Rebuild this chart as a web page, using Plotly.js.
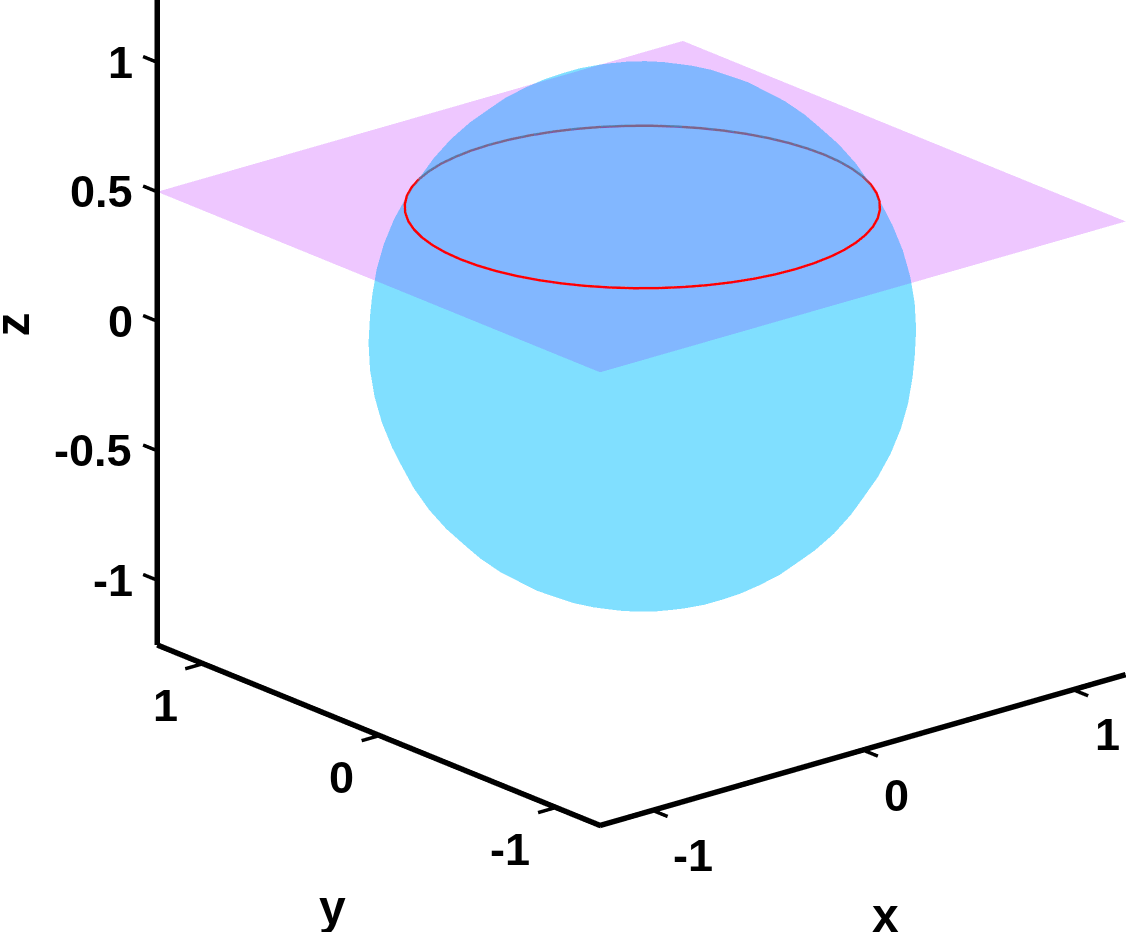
<!DOCTYPE html>
<html>
<head>
<meta charset="utf-8">
<script src="https://cdn.plot.ly/plotly-3.0.1.min.js"></script>
<style>html,body{margin:0;padding:0;background:#fff;overflow:hidden}#chart{width:1126px;height:932px}</style>
</head>
<body>
<div id="chart"></div>
<script>
// Unit-circle table, every 6 degrees from 0 to 360
var unitCos = [1,0.9945,0.9781,0.9511,0.9135,0.866,0.809,0.7431,0.6691,0.5878,0.5,0.4067,0.309,0.2079,0.1045,0,-0.1045,-0.2079,-0.309,-0.4067,-0.5,-0.5878,-0.6691,-0.7431,-0.809,-0.866,-0.9135,-0.9511,-0.9781,-0.9945,-1,-0.9945,-0.9781,-0.9511,-0.9135,-0.866,-0.809,-0.7431,-0.6691,-0.5878,-0.5,-0.4067,-0.309,-0.2079,-0.1045,0,0.1045,0.2079,0.309,0.4067,0.5,0.5878,0.6691,0.7431,0.809,0.866,0.9135,0.9511,0.9781,0.9945,1];
var unitSin = [0,0.1045,0.2079,0.309,0.4067,0.5,0.5878,0.6691,0.7431,0.809,0.866,0.9135,0.9511,0.9781,0.9945,1,0.9945,0.9781,0.9511,0.9135,0.866,0.809,0.7431,0.6691,0.5878,0.5,0.4067,0.309,0.2079,0.1045,0,-0.1045,-0.2079,-0.309,-0.4067,-0.5,-0.5878,-0.6691,-0.7431,-0.809,-0.866,-0.9135,-0.9511,-0.9781,-0.9945,-1,-0.9945,-0.9781,-0.9511,-0.9135,-0.866,-0.809,-0.7431,-0.6691,-0.5878,-0.5,-0.4067,-0.309,-0.2079,-0.1045,0];
var sphereRadius = 1;
var planeX = [-1.25, 1.25];
var planeY = [-1.25, 1.26];
var planeZ = [[0.5, 0.5], [0.5, 0.5]];
var circleRadius = 0.866;
var circleZ = 0.5;
var xTicks = [-1, 0, 1];
var yTicks = [-1, 0, 1];
var zTicks = [-1, -0.5, 0, 0.5, 1];
var axisLimit = 1.25;
var yUpper = 1.26;

var L = axisLimit;
var xRange = [-1.36, L], yRange = [-1.36, 1.36], zRange = [-L, L];
var sx = [], sy = [], sz = [];
for (var a = 0; a <= 30; a++) {
  var lat = 45 + a; if (lat > 60) lat -= 60;
  var rowX = [], rowY = [], rowZ = [];
  for (var b = 0; b <= 60; b += 2) {
    rowX.push(sphereRadius * unitCos[lat] * unitCos[b]);
    rowY.push(sphereRadius * unitCos[lat] * unitSin[b]);
    rowZ.push(sphereRadius * unitSin[lat]);
  }
  sx.push(rowX); sy.push(rowY); sz.push(rowZ);
}
function arc(idx) {
  return {
    x: idx.map(function (i) { return circleRadius * unitCos[i]; }),
    y: idx.map(function (i) { return circleRadius * unitSin[i]; }),
    z: idx.map(function () { return circleZ; })
  };
}
var backIdx = [57,58,59,60,1,2,3,4,5,6,7,8,9,10,11,12,13,14,15,16,17,18,19,20];
var frontIdx = []; for (var k = 20; k <= 57; k++) frontIdx.push(k);
var backArc = arc(backIdx), frontArc = arc(frontIdx);

var flat = function (c) { return [[0, c], [1, c]]; };
var noLight = {ambient: 1, diffuse: 0, specular: 0, roughness: 1, fresnel: 0};
function lineTrace(x, y, z, w) {
  return {type: 'scatter3d', mode: 'lines', x: x, y: y, z: z, line: {color: '#000', width: w}, hoverinfo: 'skip', showlegend: false};
}
var tx = [], ty = [], tz = [];
function addTick(p, q) { tx.push(p[0], q[0], null); ty.push(p[1], q[1], null); tz.push(p[2], q[2], null); }
xTicks.forEach(function (v) { addTick([v, -L, -L], [v, -L - 0.085, -L]); });
yTicks.forEach(function (v) { addTick([-L, v, -L], [-L - 0.085, v, -L]); });
zTicks.forEach(function (v) { addTick([-L, yUpper, v], [-L, yUpper + 0.08, v]); });

function sphereLayer(alpha) {
  return {type: 'surface', x: sx, y: sy, z: sz, surfacecolor: sz.map(function(r){return r.map(function(){return 0;});}), cmin: 0, cmax: 1,
   colorscale: flat('#00bfff'), showscale: false, opacity: alpha, lighting: noLight, hoverinfo: 'skip'};
}
var traces = [
  sphereLayer(0.2),
  {type: 'surface', x: planeX, y: planeY, z: planeZ, surfacecolor: [[0,0],[0,0]], cmin: 0, cmax: 1,
   colorscale: flat('#b100ff'), showscale: false, opacity: 0.22, lighting: noLight, hoverinfo: 'skip'},
  sphereLayer(0.115),
  {type: 'scatter3d', mode: 'lines', x: backArc.x, y: backArc.y, z: backArc.z, line: {color: '#b03e5c', width: 5}, hoverinfo: 'skip'},
  {type: 'scatter3d', mode: 'lines', x: frontArc.x, y: frontArc.y, z: frontArc.z, line: {color: '#ff0000', width: 5}, hoverinfo: 'skip'},
  lineTrace([-L, L], [-L, -L], [-L, -L], 11),
  lineTrace([-L, -L, -L], [yUpper, -L, -L], [-L, -L, -L], 11),
  lineTrace([-L, -L], [yUpper, yUpper], [-L, L], 11),
  lineTrace(tx, ty, tz, 7)
];
function axis(vals, range) {
  return {range: range, autorange: false, tickmode: 'array', tickvals: vals, ticktext: vals.map(String),
    showgrid: false, zeroline: false, showbackground: false, showspikes: false, showline: false,
    ticks: '', showticklabels: false, title: {text: ''}};
}
var tickFont = {family: 'Liberation Sans', size: 45, color: '#000', weight: 700};
var titleFont = {family: 'Liberation Sans', size: 48, color: '#000', weight: 700};
function note(x, y, z, text, dx, dy, font, angle) {
  return {x: x, y: y, z: z, text: text, showarrow: false, xanchor: 'center', yanchor: 'middle',
    xshift: dx, yshift: -dy, font: font, textangle: angle || 0};
}
var notes = [];
xTicks.forEach(function (v) { notes.push(note(v, -L, -L, String(v), v < 0 ? 40 : 34, 45, tickFont)); });
yTicks.forEach(function (v) { notes.push(note(-L, v, -L, String(v), v < 0 ? -46 : -38, 42, tickFont)); });
zTicks.forEach(function (v) {
  var s = String(v);
  var shift = {'-1': -44, '-0.5': -64, '0': -37, '0.5': -56, '1': -37}[s];
  notes.push(note(-L, yUpper, v, s, shift, 0, tickFont));
});
notes.push(note(0, -L, -L, 'x', 23, 165, titleFont));
notes.push(note(-L, 0, -L, 'y', -47, 172, titleFont));
notes.push(note(-L, yUpper, 0, 'z', -145, 3, titleFont, -90));

// Orthographic view: azimuth 40, elevation 20
var dir = [-0.6040, -0.7198, 0.3420];
var right = [0.766, -0.643, 0];
var upv = [0.2198, 0.2620, 0.9397];
var scaleU = 0.589, zStretch = 1.004;
var pxPerUnit = 464, shiftR = 79, shiftU = 129, dist = 1.6, boxFix = 0.055 * scaleU;
var centre = [0, 1, 2].map(function (i) {
  return -(shiftR / pxPerUnit) * right[i] - (shiftU / pxPerUnit) * upv[i] + (i === 0 ? boxFix : 0);
});
var layout = {
  width: 1126, height: 932, margin: {l: 0, r: 0, t: 0, b: 0}, paper_bgcolor: '#fff', showlegend: false,
  scene: {
    domain: {x: [0, 1], y: [0, 1]},
    aspectmode: 'manual',
    aspectratio: {x: (xRange[1] - xRange[0]) * scaleU, y: (yRange[1] - yRange[0]) * scaleU, z: (zRange[1] - zRange[0]) * scaleU * zStretch},
    camera: {projection: {type: 'orthographic'}, up: {x: 0, y: 0, z: 1},
      center: {x: centre[0], y: centre[1], z: centre[2]},
      eye: {x: centre[0] + dir[0] * dist, y: centre[1] + dir[1] * dist, z: centre[2] + dir[2] * dist}},
    xaxis: axis(xTicks, xRange), yaxis: axis(yTicks, yRange), zaxis: axis(zTicks, zRange),
    annotations: notes
  }
};
Plotly.newPlot('chart', traces, layout, {displayModeBar: false});
</script>
</body>
</html>
